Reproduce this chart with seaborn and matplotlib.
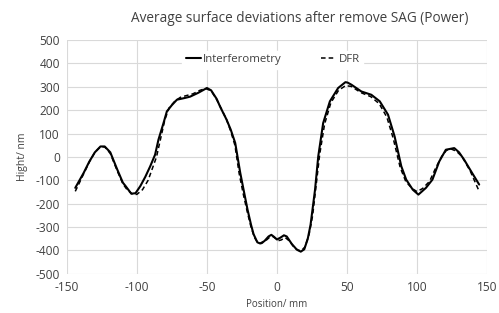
import pandas as pd
import matplotlib.pyplot as plt
import seaborn as sns

# --- data ---
interf_x = [-144, -141, -138, -134, -130, -126, -123, -119, -114, -110, -108, -104, -101,
            -97.6, -94, -90.5, -87, -84.6, -81, -78.6, -75, -71.4, -66, -62, -56, -50,
            -47, -43, -40.5, -36, -33, -29.8, -26.2, -23.5, -21, -18.5, -16.7, -14, -12,
            -9, -6, -4, -2, 0, 2.5, 5, 7, 10.6, 14, 17, 19.5, 22, 24, 27.2, 29.5, 33,
            37.8, 43.7, 48.9, 50.5, 53.2, 60.3, 67.4, 73.4, 79.3, 84, 88.8, 92.3, 97,
            101, 106.4, 111, 115.9, 120.6, 126.6, 130, 133.7, 139, 144.4]
interf_y = [-132, -100, -68, -20, 20, 45, 45, 20, -54, -110, -125, -157, -155,
            -125, -85, -40, 10, 74, 145, 195, 222, 245, 252, 258, 275, 295,
            285, 248, 214, 160, 117, 60, -68, -150, -225, -290, -330, -365, -370,
            -360, -340, -333, -342, -353, -345, -335, -340, -372, -395, -405, -395, -350,
            -290, -140, 3, 145, 238, 295, 320, 318, 309, 280, 266, 238, 181, 88, -40,
            -97, -140, -161, -132, -97, -19, 31, 38, 20, -12, -65, -118]

dfr_x = [-144, -141, -138, -134, -130, -126, -123, -119, -114, -110, -107, -103, -100,
         -96, -92, -89, -86, -83, -80, -77, -73, -69, -65, -60, -55, -51, -47, -43,
         -40, -36, -33, -30, -27, -24, -21, -18.5, -16, -13.5, -11, -8, -5, -3, -1,
         1, 3, 6, 9, 12, 15, 17.5, 20, 23, 25.5, 28, 30.5, 34, 38.5, 44, 49, 53, 60,
         67, 73, 78.5, 83, 88, 92, 96.5, 100, 104, 109, 113.5, 117.7, 121, 124, 128,
         132, 138, 144.4]
dfr_y = [-147, -110, -72, -22, 20, 43, 43, 15, -60, -115, -140, -160, -160,
         -140, -100, -50, 0, 80, 160, 210, 238, 255, 262, 270, 285, 293, 283, 245,
         210, 160, 110, 50, -70, -160, -240, -300, -345, -368, -370, -358, -342, -340,
         -348, -358, -355, -345, -360, -385, -400, -400, -385, -330, -250, -120, 10,
         140, 232, 285, 305, 302, 275, 258, 228, 170, 80, -45, -105, -135, -148, -135,
         -104, -45, 3, 28, 35, 25, 3, -60, -147]

x_ticks = [-150, -100, -50, 0, 50, 100, 150]
y_ticks = [-500, -400, -300, -200, -100, 0, 100, 200, 300, 400, 500]

df_i = pd.DataFrame({'x': interf_x, 'y': interf_y})
df_d = pd.DataFrame({'x': dfr_x, 'y': dfr_y})

sns.set_style('white')
plt.rcParams['font.family'] = ['Open Sans', 'DejaVu Sans']
plt.rcParams['axes.unicode_minus'] = False

fig = plt.figure(figsize=(4.99, 3.13), dpi=100)
ax = fig.add_axes([0.134, 0.125, 0.842, 0.747])

sns.lineplot(data=df_i, x='x', y='y', sort=False, color='black', linewidth=1.5,
             label='Interferometry', ax=ax)
sns.lineplot(data=df_d, x='x', y='y', sort=False, color='black', linewidth=1.1,
             linestyle=(0, (3, 2)), label='DFR', ax=ax)

ax.set_xlim(-150, 150)
ax.set_ylim(-500, 500)
ax.set_xticks(x_ticks)
ax.set_yticks(y_ticks)
ax.grid(True, color='#d9d9d9', linewidth=0.8)
ax.set_axisbelow(True)
for s in ax.spines.values():
    s.set_visible(False)
ax.tick_params(length=0, labelsize=8.6, colors='#404040', pad=5)

ax.set_xlabel('Position/ mm', fontsize=7, color='#404040', labelpad=4)
ax.set_ylabel('Hight/ nm', fontsize=7.5, color='#404040', labelpad=5)

fig.text(0.601, 0.942, 'Average surface deviations after remove SAG (Power)',
         ha='center', va='center', fontsize=9.8, color='#404040')

leg = ax.legend(loc='center', bbox_to_anchor=(0.49, 0.915), ncol=2, frameon=True,
                fontsize=8.2, handlelength=1.3, handletextpad=0.2, columnspacing=3.5,
                borderpad=0.3)
leg.get_frame().set_facecolor('white')
leg.get_frame().set_edgecolor('white')
leg.get_frame().set_alpha(1)
for t in leg.get_texts():
    t.set_color('#404040')

fig.savefig('out.png', dpi=100)
